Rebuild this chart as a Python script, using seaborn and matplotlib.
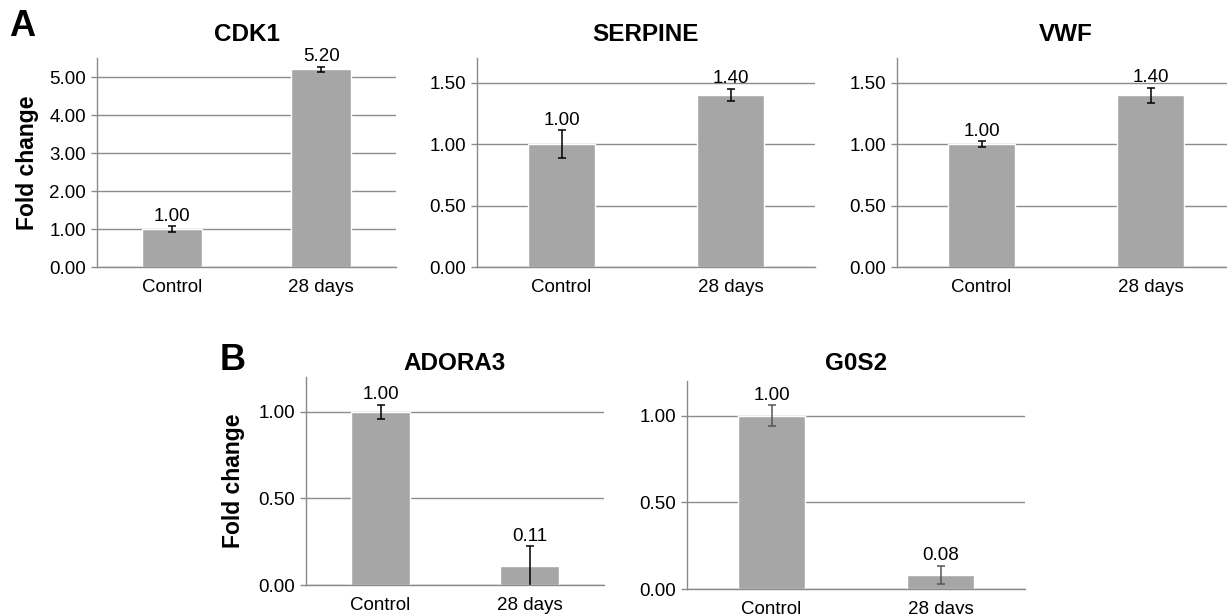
import pandas as pd
import matplotlib
matplotlib.use("Agg")
import matplotlib.pyplot as plt
import seaborn as sns

# Data (fold change, error bar half-width)
groups = ['Control', '28 days']
genes = ['CDK1', 'SERPINE', 'VWF', 'ADORA3', 'G0S2']
fold = {
    'CDK1': [1.00, 5.20],
    'SERPINE': [1.00, 1.40],
    'VWF': [1.00, 1.395],
    'ADORA3': [1.00, 0.11],
    'G0S2': [1.00, 0.08],
}
errs = {
    'CDK1': [0.07, 0.075],
    'SERPINE': [0.115, 0.05],
    'VWF': [0.025, 0.063],
    'ADORA3': [0.04, 0.115],
    'G0S2': [0.06, 0.054],
}
labels = {
    'CDK1': ['1.00', '5.20'],
    'SERPINE': ['1.00', '1.40'],
    'VWF': ['1.00', '1.40'],
    'ADORA3': ['1.00', '0.11'],
    'G0S2': ['1.00', '0.08'],
}
ylims = {'CDK1': 5.5, 'SERPINE': 1.7, 'VWF': 1.7, 'ADORA3': 1.2, 'G0S2': 1.2}
yticks = {
    'CDK1': [0, 1, 2, 3, 4, 5],
    'SERPINE': [0, 0.5, 1.0, 1.5],
    'VWF': [0, 0.5, 1.0, 1.5],
    'ADORA3': [0, 0.5, 1.0],
    'G0S2': [0, 0.5, 1.0],
}

sns.set_style("white")
plt.rcParams['font.family'] = ['Liberation Sans', 'DejaVu Sans']
plt.rcParams['text.color'] = 'black'
plt.rcParams['axes.labelcolor'] = 'black'
plt.rcParams['xtick.color'] = 'black'
plt.rcParams['ytick.color'] = 'black'

W, H = 1227, 614
fig = plt.figure(figsize=(W / 100, H / 100), dpi=100)

# axes boxes in pixels: left, right, y of zero, y of top
boxes = {
    'CDK1': (97, 396, 267, 58),
    'SERPINE': (477, 815, 267, 58),
    'VWF': (897, 1235, 267, 58),
    'ADORA3': (306, 604, 585, 377),
    'G0S2': (687, 1025, 589, 381),
}
title_pad = {'CDK1': 12, 'SERPINE': 12, 'VWF': 12, 'ADORA3': 5, 'G0S2': 8}
err_color = {'CDK1': 'black', 'SERPINE': 'black', 'VWF': 'black',
             'ADORA3': 'black', 'G0S2': '#555555'}

spine_c = '#8a8a8a'
bar_c = '#a6a6a6'
fs = 13.5

for gene in genes:
    l, r, y0, yt = boxes[gene]
    ax = fig.add_axes([l / W, (H - y0) / H, (r - l) / W, (y0 - yt) / H])
    df = pd.DataFrame({'Group': groups, 'Fold change': fold[gene]})
    sns.barplot(data=df, x='Group', y='Fold change', color=bar_c,
                width=0.4, saturation=1, ax=ax, errorbar=None, zorder=2)
    ax.errorbar([0, 1], fold[gene], yerr=errs[gene], fmt='none',
                ecolor=err_color[gene], elinewidth=1.1, capsize=3,
                capthick=1.1, zorder=3)
    for i, (v, e, t) in enumerate(zip(fold[gene], errs[gene], labels[gene])):
        ax.annotate(t, (i, v + e), xytext=(0, 1), textcoords='offset points',
                    ha='center', va='bottom', fontsize=fs)

    ax.set_xlim(-0.5, 1.5)
    ax.set_ylim(0, ylims[gene])
    ax.set_yticks(yticks[gene])
    ax.set_yticklabels([f'{t:.2f}' for t in yticks[gene]])
    ax.set_xticks([-0.5, 0.5, 1.5], minor=True)
    ax.tick_params(axis='x', which='major', length=0, pad=9, labelsize=fs)
    ax.tick_params(axis='x', which='minor', length=4, color=spine_c, width=1)
    ax.tick_params(axis='y', length=4, color=spine_c, width=1, pad=4,
                   labelsize=fs, left=True)
    ax.yaxis.grid(True, color='#8c8c8c', linewidth=1, zorder=0)
    ax.set_axisbelow(True)
    for s in ['top', 'right']:
        ax.spines[s].set_visible(False)
    for s in ['left', 'bottom']:
        ax.spines[s].set_color(spine_c)
        ax.spines[s].set_linewidth(1)
        ax.spines[s].set_zorder(4)
    ax.set_xlabel('')
    if gene in ('CDK1', 'ADORA3'):
        ax.set_ylabel('Fold change', fontsize=16.5, fontweight='bold')
        ax.yaxis.set_label_coords(-0.194 if gene == 'CDK1' else -0.205, 0.5)
    else:
        ax.set_ylabel('')
    ax.set_title(gene, fontsize=17.5, fontweight='bold', pad=title_pad[gene])

fig.text(9 / W, 1 - 26 / H, 'A', fontsize=26, fontweight='bold',
         ha='left', va='center')
fig.text(220 / W, 1 - 360 / H, 'B', fontsize=26, fontweight='bold',
         ha='left', va='center')

fig.savefig('out.png', dpi=100)
